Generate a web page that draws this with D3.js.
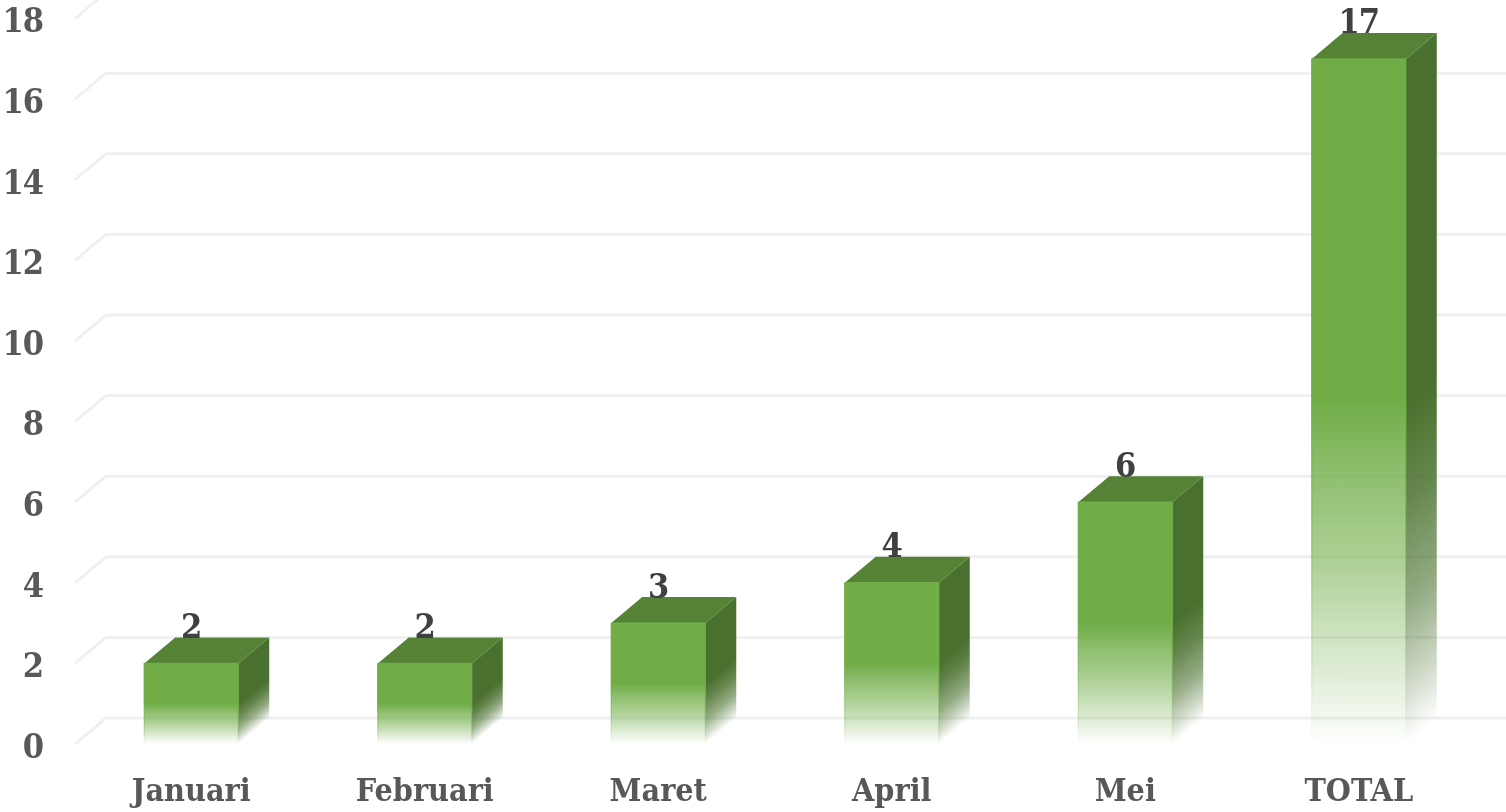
<!DOCTYPE html>
<html>
<head>
<meta charset="utf-8">
<script src="https://cdn.jsdelivr.net/npm/d3@7"></script>
<style>
  html, body { margin: 0; padding: 0; background: #fff; overflow: hidden; }
  svg { display: block; }
  text { font-family: "DejaVu Serif Condensed", "DejaVu Serif", serif; font-weight: bold; }
</style>
</head>
<body>
<div id="chart"></div>
<script>
var months = ["Januari", "Februari", "Maret", "April", "Mei", "TOTAL"];
var counts = [2, 2, 3, 4, 6, 17];
var yTicks = [0, 2, 4, 6, 8, 10, 12, 14, 16, 18];

var width = 1506, height = 812;
var depthX = 31, depthY = 26;   // offset of the back wall
var barWidth = 94;

var svg = d3.select("#chart").append("svg").attr("width", width).attr("height", height);
var defs = svg.append("defs");

defs.append("filter").attr("id", "soft")
  .attr("filterUnits", "userSpaceOnUse")
  .attr("x", 0).attr("y", 0).attr("width", width).attr("height", height)
  .append("feGaussianBlur").attr("stdDeviation", 0.6);

var root = svg.append("g").attr("filter", "url(#soft)");

var x = d3.scaleBand().domain(months).range([74.5, 1475.5]);
var y = d3.scaleLinear().domain([0, 18]).range([744, 744 - 18 * 40.3]);

// gridlines, slanted part on the left wall
var grid = root.append("g");
yTicks.forEach(function(t) {
  grid.append("path")
    .attr("d", d3.line()([[75, y(t)], [75 + depthX, y(t) - depthY], [width, y(t) - depthY]]))
    .attr("fill", "none").attr("stroke", "#f0f0f0").attr("stroke-width", 3);
});

var frontFade = [[0, 1], [0.5, 1], [0.61, 0.78], [0.73, 0.58], [0.815, 0.4], [1, 0]];
var sideFade = [[0, 1], [0.5, 1], [0.64, 0.85], [0.8, 0.58], [0.92, 0.25], [1, 0]];

function addStops(grad, color, fade) {
  fade.forEach(function(s) {
    grad.append("stop").attr("offset", s[0]).attr("stop-color", color).attr("stop-opacity", s[1]);
  });
}

var bars = root.append("g").selectAll("g").data(months).enter().append("g");

bars.each(function(m, i) {
  var g = d3.select(this);
  var left = x(m) + (x.bandwidth() - barWidth) / 2;
  var right = left + barWidth;
  var top = y(counts[i]), bottom = y(0);

  var frontId = "front" + i, sideId = "side" + i;
  addStops(defs.append("linearGradient").attr("id", frontId)
    .attr("gradientUnits", "userSpaceOnUse")
    .attr("x1", 0).attr("y1", top).attr("x2", 0).attr("y2", bottom), "#70ad47", frontFade);

  // side fades along the slanted bottom edge
  var h = bottom - top;
  var k = h * depthX / (depthX * depthX + depthY * depthY);
  addStops(defs.append("linearGradient").attr("id", sideId)
    .attr("gradientUnits", "userSpaceOnUse")
    .attr("x1", right).attr("y1", top)
    .attr("x2", right + k * depthY).attr("y2", top + k * depthX), "#49702d", sideFade);

  g.append("path")
    .attr("d", d3.line()([[right, top], [right + depthX, top - depthY], [right + depthX, bottom - depthY], [right, bottom]]) + "Z")
    .attr("fill", "url(#" + sideId + ")");

  g.append("path")
    .attr("d", d3.line()([[left, top], [left + depthX, top - depthY], [right + depthX, top - depthY], [right, top]]) + "Z")
    .attr("fill", "#548235");

  g.append("rect")
    .attr("x", left).attr("y", top)
    .attr("width", barWidth).attr("height", h)
    .attr("fill", "url(#" + frontId + ")")
    .attr("stroke", "url(#" + frontId + ")")
    .attr("stroke-width", 1.2);

  g.append("text")
    .attr("x", x(m) + x.bandwidth() / 2)
    .attr("y", top - depthY + 0.5)
    .attr("text-anchor", "middle")
    .attr("font-size", 34)
    .attr("letter-spacing", "-1px")
    .attr("fill", "#404040")
    .text(counts[i]);
});

var yAxis = root.append("g")
  .attr("transform", "translate(43,0)")
  .call(d3.axisLeft(y).tickValues(yTicks).tickSize(0).tickPadding(0));
yAxis.select(".domain").remove();
yAxis.selectAll("text")
  .attr("font-size", 34).attr("letter-spacing", "-1px")
  .attr("fill", "#595959").attr("dy", "0.39em");

var xAxis = root.append("g")
  .attr("transform", "translate(0,772)")
  .call(d3.axisBottom(x).tickSize(0).tickPadding(0));
xAxis.select(".domain").remove();
xAxis.selectAll("text")
  .attr("font-size", 32).attr("fill", "#595959").attr("dy", "0.9em");
</script>
</body>
</html>
